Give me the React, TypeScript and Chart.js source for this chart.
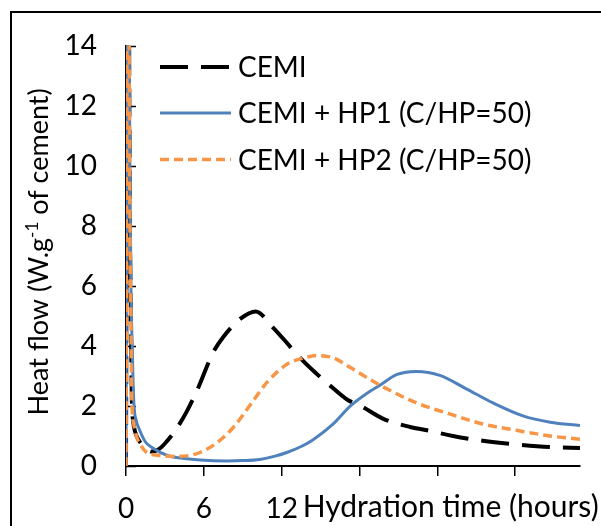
import React, { useEffect, useRef } from 'react';
import { Chart, registerables } from 'chart.js';

Chart.register(...registerables);

// ---- Data (hours, W/g) ----
const hoursCEMI = [0, 0.15, 0.3, 0.35, 0.4, 0.45, 0.55, 0.73, 1.0, 1.5, 2.0, 2.5, 3.0, 3.9, 4.7, 5.5, 6.7, 7.5, 8.8, 10.0, 11.3, 12.65, 13.65, 14.7, 16.0, 17.1, 18.1, 19.8, 21.9, 23.2, 25.2, 27.5, 29.8, 32.7, 35.0];
const flowCEMI = [0, 22, 8, 6, 4, 2.2, 1.5, 1.1, 0.85, 0.6, 0.48, 0.55, 0.75, 1.25, 1.83, 2.54, 3.77, 4.3, 4.9, 5.15, 4.63, 3.98, 3.5, 3.07, 2.58, 2.2, 2.0, 1.58, 1.3, 1.19, 1.0, 0.84, 0.73, 0.63, 0.6];

const hoursHP1 = [0, 0.15, 0.3, 0.38, 0.47, 0.6, 0.8, 1.0, 1.5, 2.0, 3.2, 4.5, 5.7, 7.8, 9.0, 10.3, 11.5, 12.4, 13.5, 14.4, 16.0, 17.3, 18.5, 19.6, 20.9, 22.4, 24.2, 26.2, 28.3, 30.6, 32.7, 35.0];
const flowHP1 = [0, 22, 10, 6, 4.1, 2.15, 1.5, 1.25, 0.8, 0.62, 0.35, 0.25, 0.2, 0.17, 0.18, 0.22, 0.33, 0.45, 0.65, 0.87, 1.41, 2.0, 2.4, 2.7, 3.05, 3.15, 3.02, 2.58, 2.1, 1.67, 1.46, 1.35];

const hoursHP2 = [0, 0.15, 0.3, 0.35, 0.4, 0.45, 0.6, 0.8, 1.2, 1.6, 2.5, 3.9, 5.0, 5.7, 7.0, 8.3, 9.6, 10.9, 12.4, 13.7, 14.7, 16.0, 17.3, 19.6, 22.4, 25.0, 27.5, 30.1, 32.7, 35.0];
const flowHP2 = [0, 22, 8, 6, 4, 2.2, 1.4, 1.0, 0.65, 0.45, 0.36, 0.32, 0.36, 0.45, 0.77, 1.3, 2.05, 2.8, 3.39, 3.6, 3.68, 3.6, 3.28, 2.69, 2.1, 1.73, 1.4, 1.19, 1.0, 0.89];

const seriesNames = ['CEMI', 'CEMI + HP1 (C/HP=50)', 'CEMI + HP2 (C/HP=50)'];
const xLabelsShown = ['0', '6', '12'];
const xTitle = 'Hydration time (hours)';
const yTitleMain = 'Heat flow (W.g';
const yTitleSup = '-1';
const yTitleEnd = ' of cement)';

const FONT = 'Lato, "Open Sans", sans-serif';
const FS_TICK = 28;
const FS_LEGEND = 28;
const FS_XTITLE = 30;
const FS_YTITLE = 27;

const colors = ['#000000', '#4F81BD', '#F79646'];
const widths = [4, 3, 3.5];
const dashes: number[][] = [[28, 13], [], [9, 5]];

const toPts = (xs: number[], ys: number[]) => xs.map((x, i) => ({ x, y: ys[i] }));

const overlay = {
  id: 'overlay',
  beforeDatasetsDraw(chart: any) {
    const { ctx, scales } = chart;
    const y = scales.y;
    const left = chart.chartArea.left;
    ctx.save();
    ctx.strokeStyle = '#000';
    ctx.lineWidth = 1.5;
    y.ticks.forEach((t: any) => {
      const py = Math.round(y.getPixelForValue(t.value)) + 0.5;
      ctx.beginPath();
      ctx.moveTo(left, py);
      ctx.lineTo(left + 10, py);
      ctx.stroke();
    });
    ctx.restore();
  },
  afterDraw(chart: any) {
    const { ctx, scales, chartArea } = chart;
    ctx.save();
    ctx.fillStyle = '#000';

    // Legend
    const rowY = [67, 113, 159.5];
    ctx.font = `${FS_LEGEND}px ${FONT}`;
    seriesNames.forEach((name, i) => {
      ctx.save();
      ctx.strokeStyle = colors[i];
      ctx.lineWidth = widths[i];
      ctx.setLineDash(dashes[i]);
      ctx.beginPath();
      ctx.moveTo(160, rowY[i]);
      ctx.lineTo(231, rowY[i]);
      ctx.stroke();
      ctx.restore();
      ctx.textAlign = 'left';
      ctx.textBaseline = 'middle';
      ctx.fillText(name, 238, rowY[i] + 1);
    });

    // X title, placed after the "12" tick label
    const x12 = scales.x.getPixelForValue(12);
    ctx.font = `${FS_XTITLE}px ${FONT}`;
    ctx.textAlign = 'left';
    ctx.textBaseline = 'alphabetic';
    ctx.fillText(xTitle, x12 + 21, 517);

    // Y title (rotated) with superscript
    const supFS = Math.round(FS_YTITLE * 0.62);
    ctx.font = `${FS_YTITLE}px ${FONT}`;
    const w1 = ctx.measureText(yTitleMain).width;
    const w3 = ctx.measureText(yTitleEnd).width;
    ctx.font = `${supFS}px ${FONT}`;
    const w2 = ctx.measureText(yTitleSup).width;
    const total = w1 + w2 + w3;
    const cy = (chartArea.top + chartArea.bottom) / 2 - 4;
    ctx.translate(48, cy);
    ctx.rotate(-Math.PI / 2);
    ctx.textAlign = 'left';
    ctx.textBaseline = 'alphabetic';
    let x0 = -total / 2;
    ctx.font = `${FS_YTITLE}px ${FONT}`;
    ctx.fillText(yTitleMain, x0, 0);
    x0 += w1;
    ctx.font = `${supFS}px ${FONT}`;
    ctx.fillText(yTitleSup, x0, -10);
    x0 += w2;
    ctx.font = `${FS_YTITLE}px ${FONT}`;
    ctx.fillText(yTitleEnd, x0, 0);
    ctx.restore();
  },
};

export default function App() {
  const ref = useRef<HTMLCanvasElement>(null);
  useEffect(() => {
    document.body.style.margin = '0';
    document.body.style.overflow = 'hidden';
    const sets = [
      toPts(hoursCEMI, flowCEMI),
      toPts(hoursHP1, flowHP1),
      toPts(hoursHP2, flowHP2),
    ];
    const chart = new Chart(ref.current as HTMLCanvasElement, {
      type: 'line',
      data: {
        datasets: sets.map((data, i) => ({
          label: seriesNames[i],
          data,
          borderColor: colors[i],
          backgroundColor: colors[i],
          borderWidth: widths[i],
          borderDash: dashes[i],
          pointRadius: 0,
          fill: false,
          cubicInterpolationMode: 'monotone',
          order: 2 - i,
        })),
      },
      options: {
        animation: false,
        responsive: false,
        layout: { padding: { top: 31, right: 21, left: 0, bottom: 0 } },
        plugins: { legend: { display: false }, tooltip: { enabled: false } },
        scales: {
          x: {
            type: 'linear',
            min: 0,
            max: 35,
            afterFit: (s: any) => { s.height = 60; },
            ticks: {
              stepSize: 6,
              includeBounds: false,
              autoSkip: false,
              maxRotation: 0,
              color: '#000',
              padding: 16,
              font: { family: FONT, size: FS_TICK },
              callback: (v: any) => (xLabelsShown.includes(String(v)) ? String(v) : ''),
            },
            grid: { display: true, drawOnChartArea: false, drawTicks: true, tickLength: 10, color: '#000', lineWidth: 1.5 },
            border: { display: true, color: '#000', width: 2 },
          },
          y: {
            min: 0,
            max: 14,
            afterFit: (s: any) => { s.width = 126; },
            ticks: { stepSize: 2, color: '#000', padding: 29, font: { family: FONT, size: FS_TICK } },
            grid: { display: false, drawTicks: false },
            border: { display: true, color: '#000', width: 1.5 },
          },
        },
      } as any,
      plugins: [overlay],
    });
    return () => chart.destroy();
  }, []);

  return (
    <div style={{ position: 'relative', width: 601, height: 526, overflow: 'hidden', background: '#fff' }}>
      <div style={{ position: 'absolute', left: 10, top: 11, width: 700, height: 700, border: '2px solid #000', boxSizing: 'border-box' }} />
      <canvas ref={ref} width={601} height={526} style={{ position: 'absolute', left: 0, top: 0, width: 601, height: 526 }} />
    </div>
  );
}
